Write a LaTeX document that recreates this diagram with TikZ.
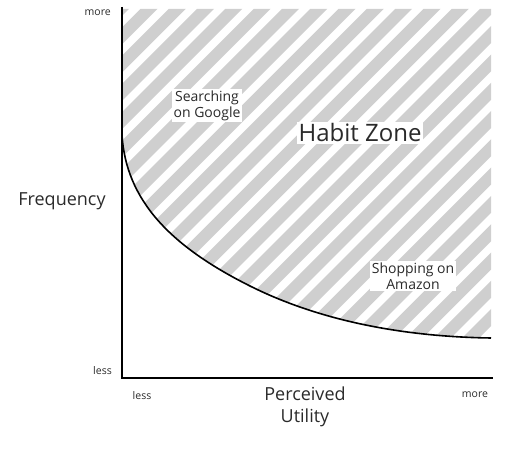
\documentclass[tikz,border=0pt]{standalone}
\usepackage{fontspec}
\setmainfont{Open Sans}
\usepackage{xcolor}
\usepackage{tikz}
\usetikzlibrary{positioning}

\definecolor{stripegray}{HTML}{CFCFCF}
\definecolor{textgray}{HTML}{2A2A2A}

\begin{document}
\begin{tikzpicture}[x=1pt, y=1pt,
    axis/.style={line width=2pt, black},
    curveline/.style={line width=1.6pt, black},
    stripe/.style={line width=12pt, stripegray},
    ticklabel/.style={font=\fontsize{10.5}{12}\selectfont, text=textgray, inner sep=0pt},
    axislabel/.style={font=\fontsize{18}{22}\selectfont, text=textgray, align=center, inner sep=0pt},
    zonelabel/.style={fill=white, inner sep=1.5pt, align=center, text=textgray, font=\fontsize{14}{16}\selectfont}
]
\useasboundingbox (0,0) rectangle (506,470);
% Curve end points
\coordinate (cstart) at (122,335);
\coordinate (cmid) at (250,184);
\coordinate (cend) at (491,132);
% Habit zone stripes
\begin{scope}
    \clip (cstart) .. controls (126,270) and (170,224) .. (cmid)
        .. controls (330,144) and (420,133) .. (cend)
        -- (491,461) -- (122,461) -- cycle;
    \foreach \k in {-14,...,16} {
        \draw[stripe] ({-57.5+28.3*\k}, 0) -- ++(520,520);
    }
\end{scope}
% Threshold curve
\draw[curveline] (cstart) .. controls (126,270) and (170,224) .. (cmid)
    .. controls (330,144) and (420,133) .. (cend);
% Axes
\coordinate (origin) at (122,92);
\coordinate (ytop) at (122,463);
\coordinate (xend) at (493,92);
\draw[axis] (ytop) -- (origin) -- (xend);
% Axis labels
\node[ticklabel, anchor=east] (ymore) at (111,457) {more};
\node[ticklabel, anchor=east] (yless) at (112,99) {less};
\node[axislabel] (freq) at (62,269) {Frequency};
\node[ticklabel] (xless) at (142,74) {less};
\node[ticklabel] (xmore) at (475,75) {more};
\node[axislabel] (utility) at (305,63) {Perceived\\Utility};
% Zone labels
\node[zonelabel] (google) at (207,364) {Searching\\on Google};
\node[zonelabel, font=\fontsize{24}{28}\selectfont] (habit) at (360,337) {Habit Zone};
\node[zonelabel] (amazon) at (413,194) {Shopping on\\Amazon};
\end{tikzpicture}
\end{document}
